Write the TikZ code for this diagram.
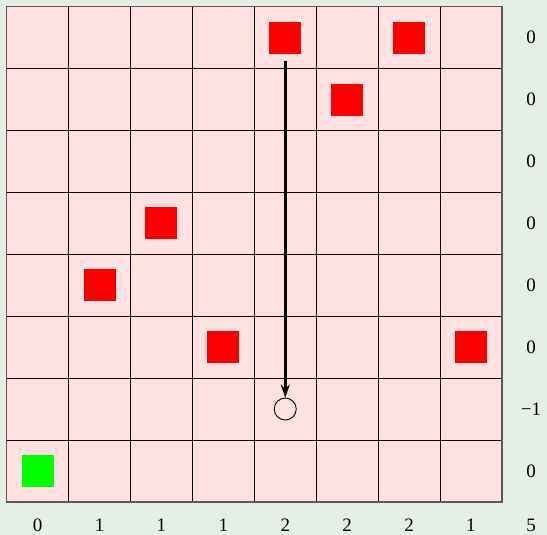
\documentclass[tikz,border=0pt]{standalone}
\usepackage{fontspec}
\setmainfont{Liberation Serif}
\usetikzlibrary{arrows.meta}
\definecolor{bgc}{HTML}{E6EFE6}
\definecolor{cellc}{HTML}{FFE1E1}
\definecolor{redc}{HTML}{FF0000}
\definecolor{greenc}{HTML}{00FF00}
\begin{document}
\begin{tikzpicture}[x=1pt,y=-1pt,
  lbl/.style={font=\fontsize{19}{19}\selectfont, inner sep=0pt},
  rsq/.style={fill=redc, draw=none, minimum size=32pt, inner sep=0pt},
  gsq/.style={fill=greenc, draw=none, minimum size=32pt, inner sep=0pt},
  tgt/.style={circle, draw=black, line width=0.9pt, minimum size=22pt, inner sep=0pt}]
\useasboundingbox (0,0) rectangle (547,535);
\fill[bgc] (0,0) rectangle (547,535);
\fill[cellc] (6.7,6.7) rectangle (501.9,501.9);
\foreach \i in {1,...,7}{
  \draw[black, line width=0.8pt] ({6.7+\i*61.9},6.7) -- ({6.7+\i*61.9},501.9);
  \draw[black, line width=0.8pt] (6.7,{6.7+\i*61.9}) -- (501.9,{6.7+\i*61.9});
}
\draw[black!65, line width=1.4pt] (6.7,6.7) rectangle (501.9,501.9);
% squares: (col,row)
\foreach \c/\r/\n in {4/0/s1,6/0/s2,5/1/s3,2/3/s4,1/4/s5,3/5/s6,7/5/s7}{
  \node[rsq] (\n) at ({6.7+(\c+0.5)*61.9},{6.7+(\r+0.5)*61.9}) {};
}
\node[gsq] (g) at ({6.7+0.5*61.9},{6.7+7.5*61.9}) {};
\node[tgt] (t) at ({6.7+4.5*61.9},{6.7+6.5*61.9}) {};
\coordinate (st) at ({6.7+4.5*61.9},61);
\draw[line width=3pt, -{Stealth[length=13pt,width=9pt]}] (st) -- (t.north);
% right labels
\foreach \r/\v/\n in {0/0/r0,1/0/r1,2/0/r2,3/0/r3,4/0/r4,5/0/r5,6/−1/r6,7/0/r7}{
  \node[lbl] (\n) at (531,{6.7+(\r+0.5)*61.9}) {\v};
}
% bottom labels
\foreach \c/\v/\n in {0/0/b0,1/1/b1,2/1/b2,3/1/b3,4/2/b4,5/2/b5,6/2/b6,7/1/b7}{
  \node[lbl] (\n) at ({6.7+(\c+0.5)*61.9},525) {\v};
}
\node[lbl] (tot) at (531,525) {5};
\end{tikzpicture}
\end{document}
